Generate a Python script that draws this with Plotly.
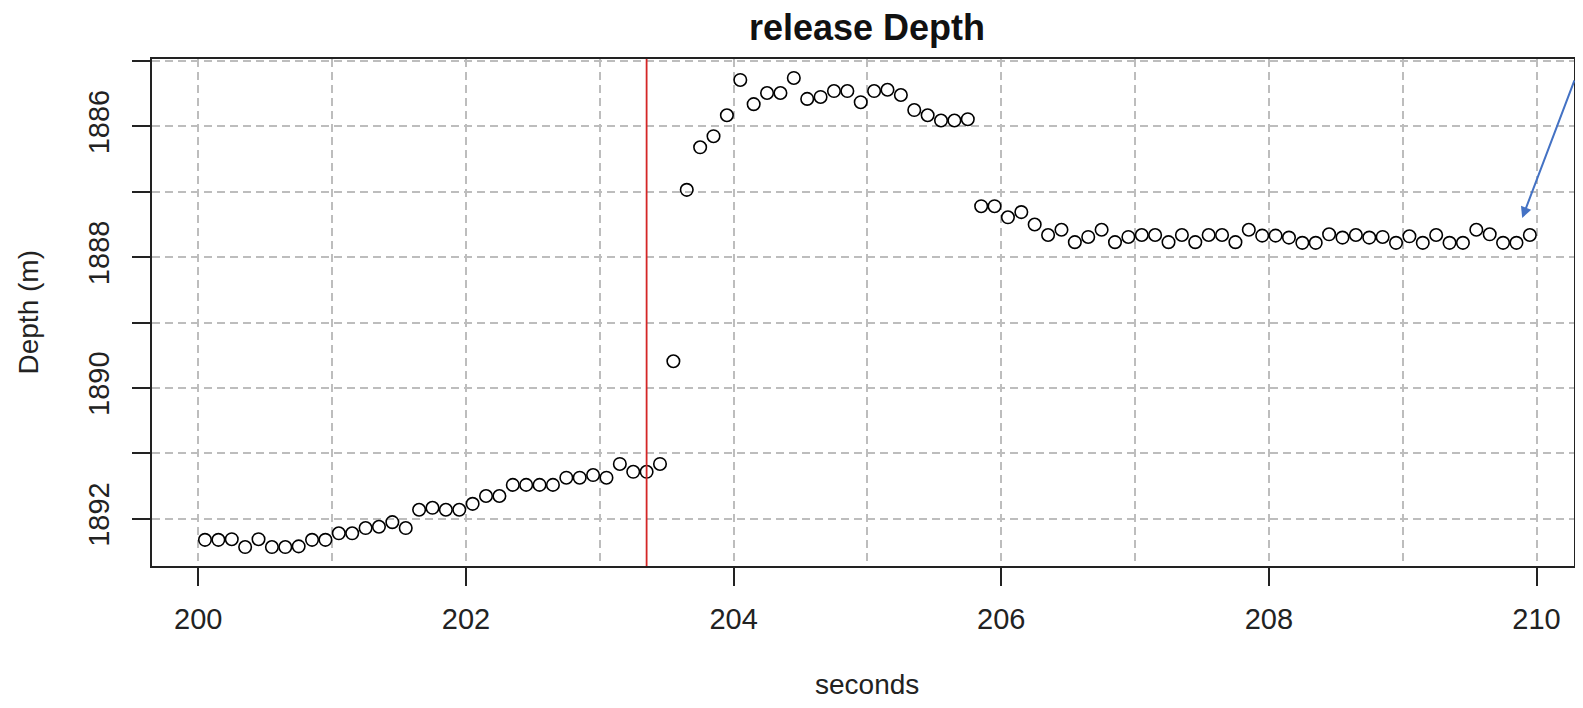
import plotly.graph_objects as go

# sample times (s)
seconds = [
    200.05, 200.15, 200.25, 200.35, 200.45, 200.55, 200.65, 200.75, 200.85, 200.95,
    201.05, 201.15, 201.25, 201.35, 201.45, 201.55, 201.65, 201.75, 201.85, 201.95,
    202.05, 202.15, 202.25, 202.35, 202.45, 202.55, 202.65, 202.75, 202.85, 202.95,
    203.05, 203.15, 203.25, 203.35, 203.45, 203.55, 203.65, 203.75, 203.85, 203.95,
    204.05, 204.15, 204.25, 204.35, 204.45, 204.55, 204.65, 204.75, 204.85, 204.95,
    205.05, 205.15, 205.25, 205.35, 205.45, 205.55, 205.65, 205.75, 205.85, 205.95,
    206.05, 206.15, 206.25, 206.35, 206.45, 206.55, 206.65, 206.75, 206.85, 206.95,
    207.05, 207.15, 207.25, 207.35, 207.45, 207.55, 207.65, 207.75, 207.85, 207.95,
    208.05, 208.15, 208.25, 208.35, 208.45, 208.55, 208.65, 208.75, 208.85, 208.95,
    209.05, 209.15, 209.25, 209.35, 209.45, 209.55, 209.65, 209.75, 209.85, 209.95,
]

# depth (m)
depth = [
    1892.32, 1892.32, 1892.31, 1892.43, 1892.31, 1892.43, 1892.43, 1892.42, 1892.32, 1892.32,
    1892.22, 1892.22, 1892.14, 1892.12, 1892.05, 1892.14, 1891.86, 1891.83, 1891.86, 1891.86,
    1891.77, 1891.65, 1891.65, 1891.48, 1891.48, 1891.48, 1891.48, 1891.37, 1891.37, 1891.33,
    1891.37, 1891.16, 1891.28, 1891.28, 1891.16, 1889.59, 1886.97, 1886.32, 1886.15, 1885.83,
    1885.29, 1885.66, 1885.49, 1885.49, 1885.26, 1885.58, 1885.55, 1885.46, 1885.46, 1885.63,
    1885.46, 1885.44, 1885.52, 1885.75, 1885.83, 1885.91, 1885.91, 1885.89, 1887.22, 1887.22,
    1887.39, 1887.31, 1887.50, 1887.66, 1887.58, 1887.77, 1887.69, 1887.58, 1887.77, 1887.69,
    1887.66, 1887.66, 1887.77, 1887.66, 1887.77, 1887.66, 1887.66, 1887.77, 1887.58, 1887.67,
    1887.67, 1887.70, 1887.78, 1887.78, 1887.65, 1887.70, 1887.66, 1887.70, 1887.69, 1887.78,
    1887.68, 1887.78, 1887.66, 1887.78, 1887.78, 1887.58, 1887.65, 1887.78, 1887.78, 1887.66,
]

release_time = 203.35
arrow_target = (209.893, 1887.40)

x_ticks = [200, 202, 204, 206, 208, 210]
x_grid_minor = [201, 203, 205, 207, 209]
y_ticks = [1885, 1886, 1887, 1888, 1889, 1890, 1891, 1892]
y_labels = ["", "1886", "", "1888", "", "1890", "", "1892"]

FONT = "Liberation Sans, Arial, sans-serif"
GRID = "#bdbdbd"
DASH = "8px,5px"

# figure size (page body has an 8px margin)
W, H = 1567, 692
L, R, T, B = 144, 1, 51, 134
PLOT_W, PLOT_H = W - L - R, H - T - B

fig = go.Figure()
fig.add_trace(go.Scatter(
    x=seconds, y=depth, mode="markers",
    marker=dict(symbol="circle-open", size=12.5, color="black", line=dict(width=1.6, color="black")),
    showlegend=False, cliponaxis=False,
))

fig.add_shape(type="line", xref="x", yref="paper", x0=release_time, x1=release_time,
              y0=0, y1=1, line=dict(color="#d42626", width=1.8))

fig.add_annotation(x=arrow_target[0], y=arrow_target[1], xref="x", yref="y",
                   text="", showarrow=True, ax=72, ay=-139,
                   arrowcolor="#4472C4", arrowwidth=2, arrowhead=2, arrowsize=1.1)

# axis titles placed as annotations (fixed margins)
fig.add_annotation(text="seconds", xref="paper", yref="paper", x=(859 - L) / PLOT_W,
                   y=-(676 - (H - B)) / PLOT_H,
                   xanchor="center", yanchor="middle", showarrow=False,
                   font=dict(size=28, family=FONT, color="#222222"))
fig.add_annotation(text="Depth (m)", xref="paper", yref="paper", x=(20 - L) / PLOT_W, y=0.5,
                   xanchor="center", yanchor="middle", textangle=-90, showarrow=False,
                   font=dict(size=28, family=FONT, color="#222222"))

fig.update_layout(
    width=W, height=H,
    margin=dict(l=L, r=R, t=T, b=B, pad=0, autoexpand=False),
    paper_bgcolor="white", plot_bgcolor="white",
    font=dict(family=FONT, color="#1a1a1a"),
    title=dict(text="<b>release Depth</b>", x=859 / W, xanchor="center",
               y=1 - 19 / H, yanchor="middle", yref="container", pad=dict(t=0, b=0),
               font=dict(size=36, family=FONT, color="#111111")),
    xaxis=dict(
        range=[199.654, 210.28], autorange=False, automargin=False,
        tickmode="array", tickvals=x_ticks, ticktext=[str(v) for v in x_ticks],
        ticks="outside", ticklen=18, tickwidth=1.5, tickcolor="#222222",
        tickfont=dict(size=29, family=FONT, color="#222222"),
        ticklabelstandoff=8,
        showline=True, linecolor="#222222", linewidth=1.5, mirror=True,
        showgrid=True, gridcolor=GRID, gridwidth=1.5, griddash=DASH,
        minor=dict(tickmode="array", tickvals=x_grid_minor, ticks="",
                   showgrid=True, gridcolor=GRID, gridwidth=1.5, griddash=DASH),
        zeroline=False,
    ),
    yaxis=dict(
        range=[1892.72, 1884.97], autorange=False, automargin=False,
        tickmode="array", tickvals=y_ticks, ticktext=y_labels,
        tickangle=-90,
        ticks="outside", ticklen=18, tickwidth=1.5, tickcolor="#222222",
        tickfont=dict(size=29, family=FONT, color="#222222"),
        ticklabelstandoff=12,
        showline=True, linecolor="#222222", linewidth=1.5, mirror=True,
        showgrid=True, gridcolor=GRID, gridwidth=1.5, griddash=DASH,
        zeroline=False,
    ),
)

fig.write_html("out.html")
